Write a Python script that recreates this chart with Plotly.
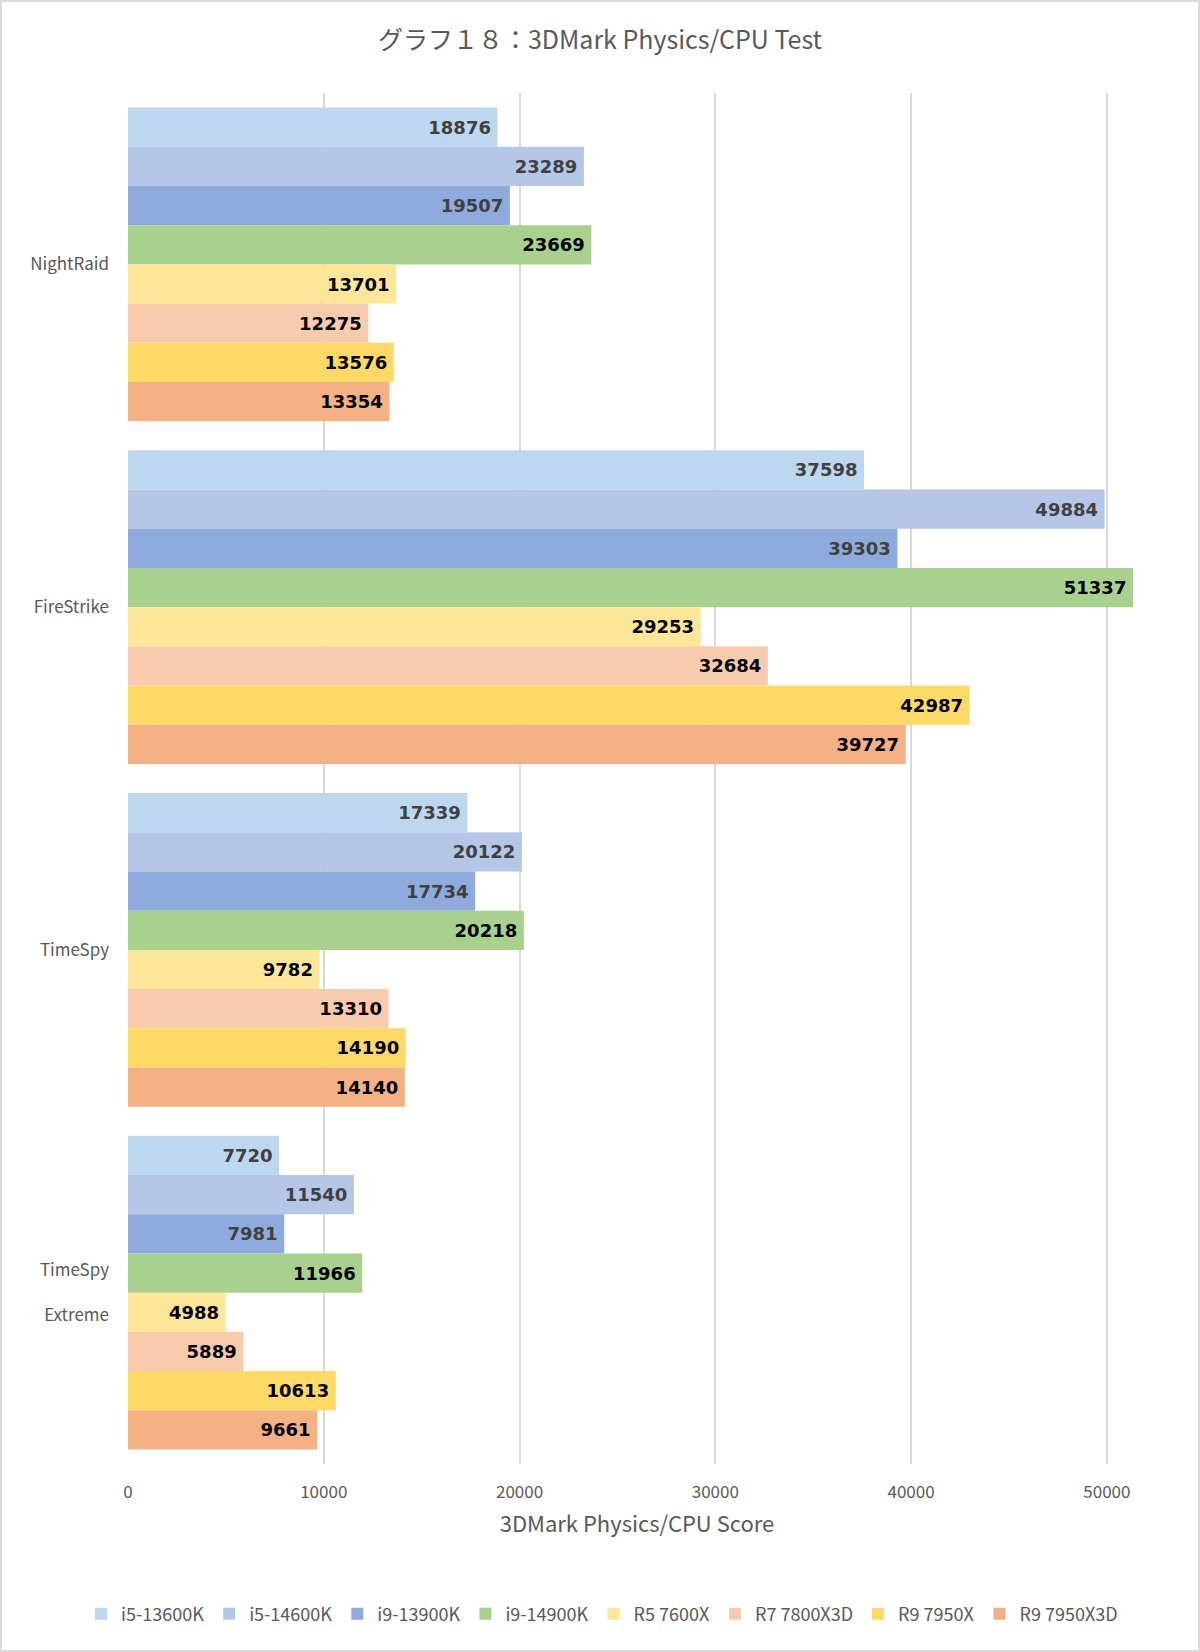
import plotly.graph_objects as go

categories = ["NightRaid", "FireStrike", "TimeSpy", "TimeSpy<br> <br>Extreme"]
series_names = ["i5-13600K", "i5-14600K", "i9-13900K", "i9-14900K",
                "R5 7600X", "R7 7800X3D", "R9 7950X", "R9 7950X3D"]
i5_13600k = [18876, 37598, 17339, 7720]
i5_14600k = [23289, 49884, 20122, 11540]
i9_13900k = [19507, 39303, 17734, 7981]
i9_14900k = [23669, 51337, 20218, 11966]
r5_7600x = [13701, 29253, 9782, 4988]
r7_7800x3d = [12275, 32684, 13310, 5889]
r9_7950x = [13576, 42987, 14190, 10613]
r9_7950x3d = [13354, 39727, 14140, 9661]
series_values = [i5_13600k, i5_14600k, i9_13900k, i9_14900k,
                 r5_7600x, r7_7800x3d, r9_7950x, r9_7950x3d]
x_ticks = [0, 10000, 20000, 30000, 40000, 50000]

colors = ["#BDD7EE", "#B4C7E7", "#8FAADC", "#A9D18E",
          "#FFE699", "#F8CBAD", "#FFD966", "#F4B183"]
label_colors = ["#404040", "#404040", "#404040", "#000000",
                "#000000", "#000000", "#000000", "#000000"]

W, H = 1200, 1652
L, R, T, B = 128, 54, 93, 188
FONT = "Noto Sans CJK JP"

fig = go.Figure()
for name, vals, c, lc in zip(series_names, series_values, colors, label_colors):
    fig.add_trace(go.Bar(
        y=categories, x=vals, name=name, orientation="h",
        marker=dict(color=c, line=dict(width=0)),
        text=[f"{v}\u2009" for v in vals],
        textposition="inside", insidetextanchor="end", textangle=0,
        constraintext="none",
        textfont=dict(family="DejaVu Sans", size=18, color=lc, weight="bold"),
        hoverinfo="x+name",
    ))

pw = W - L - R
ph = H - T - B
fig.update_layout(
    width=W, height=H,
    margin=dict(l=L, r=R, t=T, b=B, autoexpand=False),
    paper_bgcolor="white", plot_bgcolor="white",
    barmode="group", bargap=0.084, bargroupgap=0,
    title=dict(text="グラフ１８：3DMark Physics/CPU Test",
               x=0.5, xanchor="center", y=1 - 40 / H, yanchor="middle",
               font=dict(family=FONT, size=25, color="#595959")),
    xaxis=dict(range=[0, 52000], tickvals=x_ticks, tickformat="d",
               showgrid=True, gridcolor="#D9D9D9", gridwidth=1.5,
               zeroline=False, showline=False, ticks="", automargin=False,
               tickfont=dict(family=FONT, size=17, color="#595959"),
               ticklabelstandoff=16,
               title=dict(text="3DMark Physics/CPU Score", standoff=14,
                          font=dict(family=FONT, size=22, color="#595959"))),
    yaxis=dict(autorange="reversed", showgrid=False, zeroline=False,
               showline=False, ticks="", ticklabelstandoff=18, automargin=False,
               tickfont=dict(family=FONT, size=17, color="#595959")),
    legend=dict(orientation="h", x=(81 - L) / pw, xanchor="left",
                y=-(1614 - (H - B)) / ph, yanchor="middle",
                font=dict(family=FONT, size=18, color="#595959"),
                traceorder="normal", itemwidth=30),
    showlegend=True,
    shapes=[dict(type="rect", xref="paper", yref="paper",
                 x0=-(L - 1) / pw, x1=1 + (R - 1) / pw,
                 y0=-(B - 1) / ph, y1=1 + (T - 1) / ph,
                 line=dict(color="#D9D9D9", width=2), fillcolor="rgba(0,0,0,0)",
                 layer="below")],
)

fig.write_html("out.html", config={"displayModeBar": False},
               post_script="document.body.style.margin='0';document.body.style.padding='0';")
